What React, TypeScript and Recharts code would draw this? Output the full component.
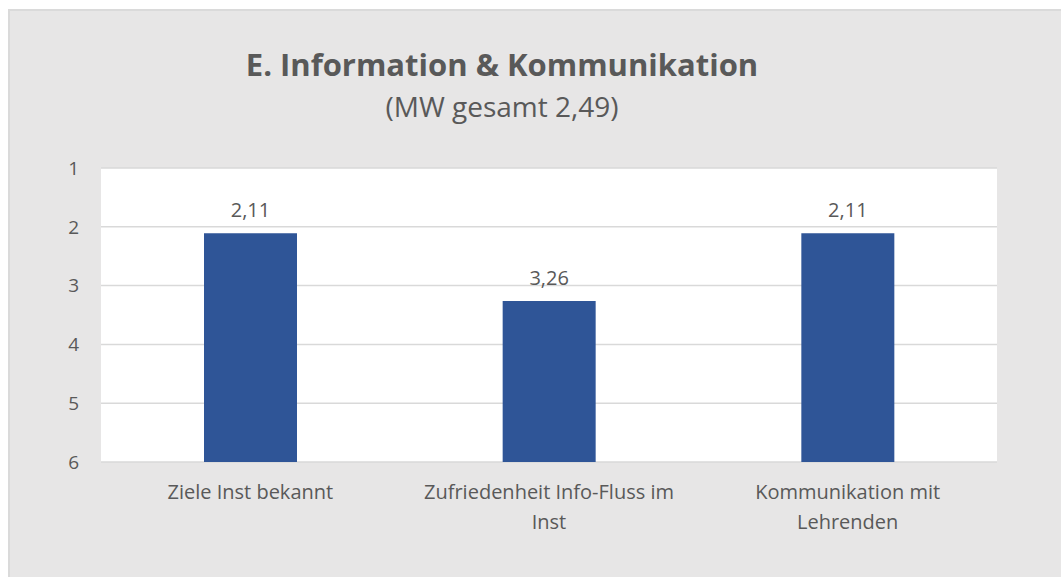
import React from 'react';
import { BarChart, Bar, XAxis, YAxis, CartesianGrid, LabelList } from 'recharts';

const categories = ['Ziele Inst bekannt', 'Zufriedenheit Info-Fluss im Inst', 'Kommunikation mit Lehrenden'];
const categoryLines = [['Ziele Inst bekannt'], ['Zufriedenheit Info-Fluss im', 'Inst'], ['Kommunikation mit', 'Lehrenden']];
const means = [2.11, 3.26, 2.11];
const yTicks = [1, 2, 3, 4, 5, 6];
const baseline = 6;

const data = categories.map((name, i) => ({ name, value: means[i], range: [means[i], baseline] }));

const FONT = '"Open Sans", Lato, sans-serif';
const TEXT = '#595959';

const fmt = (v: number) => v.toFixed(2).replace('.', ',');

const CategoryTick: React.FC<any> = ({ x, y, index }) => {
  const lines = categoryLines[index] || [];
  return (
    <g>
      {lines.map((l, i) => (
        <text key={i} x={x} y={y + 29 + i * 30} textAnchor="middle" fill={TEXT} fontSize={20} fontFamily={FONT}>
          {l}
        </text>
      ))}
    </g>
  );
};

const ValueLabel: React.FC<any> = ({ x, y, width, height, value }) => {
  const top = Math.min(y, y + height);
  return (
    <text x={x + width / 2} y={top - 16} textAnchor="middle" fill={TEXT} fontSize={20} fontFamily={FONT}>
      {fmt(value)}
    </text>
  );
};

const App: React.FC = () => {
  return (
    <div style={{ position: 'absolute', left: 0, top: 0, width: 1061, height: 577, background: '#fff', overflow: 'hidden' }}>
      <div style={{ position: 'absolute', left: 8, top: 9, width: 1060, height: 570, background: '#e7e6e6', borderTop: '2px solid #dadada', borderLeft: '2px solid #dadada' }}>
        <div style={{ position: 'absolute', left: -2, width: 988, top: 32, textAlign: 'center', fontFamily: FONT, fontWeight: 'bold', fontSize: 31, color: TEXT, whiteSpace: 'nowrap' }}>
          E. Information &amp; Kommunikation
        </div>
        <div style={{ position: 'absolute', left: -2, width: 988, top: 76, textAlign: 'center', fontFamily: FONT, fontSize: 28, color: TEXT, whiteSpace: 'nowrap' }}>
          (MW gesamt 2,49)
        </div>
        <div style={{ position: 'absolute', left: 0, top: -1 }}>
          <BarChart width={1051} height={567} data={data} margin={{ top: 158, right: 64, bottom: 55, left: 51 }} barCategoryGap={103}>
            <CartesianGrid horizontal vertical={false} fill="#ffffff" stroke="#d9d9d9" strokeWidth={1.5} />
            <XAxis dataKey="name" axisLine={false} tickLine={false} height={60} tick={<CategoryTick />} interval={0} />
            <YAxis
              type="number"
              domain={[1, 6]}
              ticks={yTicks}
              reversed
              width={40}
              axisLine={false}
              tickLine={false}
              tickMargin={16}
              tick={{ fill: TEXT, fontSize: 19, fontFamily: FONT }}
            />
            <Bar dataKey="range" fill="#2f5597" isAnimationActive={false}>
              <LabelList dataKey="value" content={<ValueLabel />} />
            </Bar>
          </BarChart>
        </div>
      </div>
    </div>
  );
};

export default App;
